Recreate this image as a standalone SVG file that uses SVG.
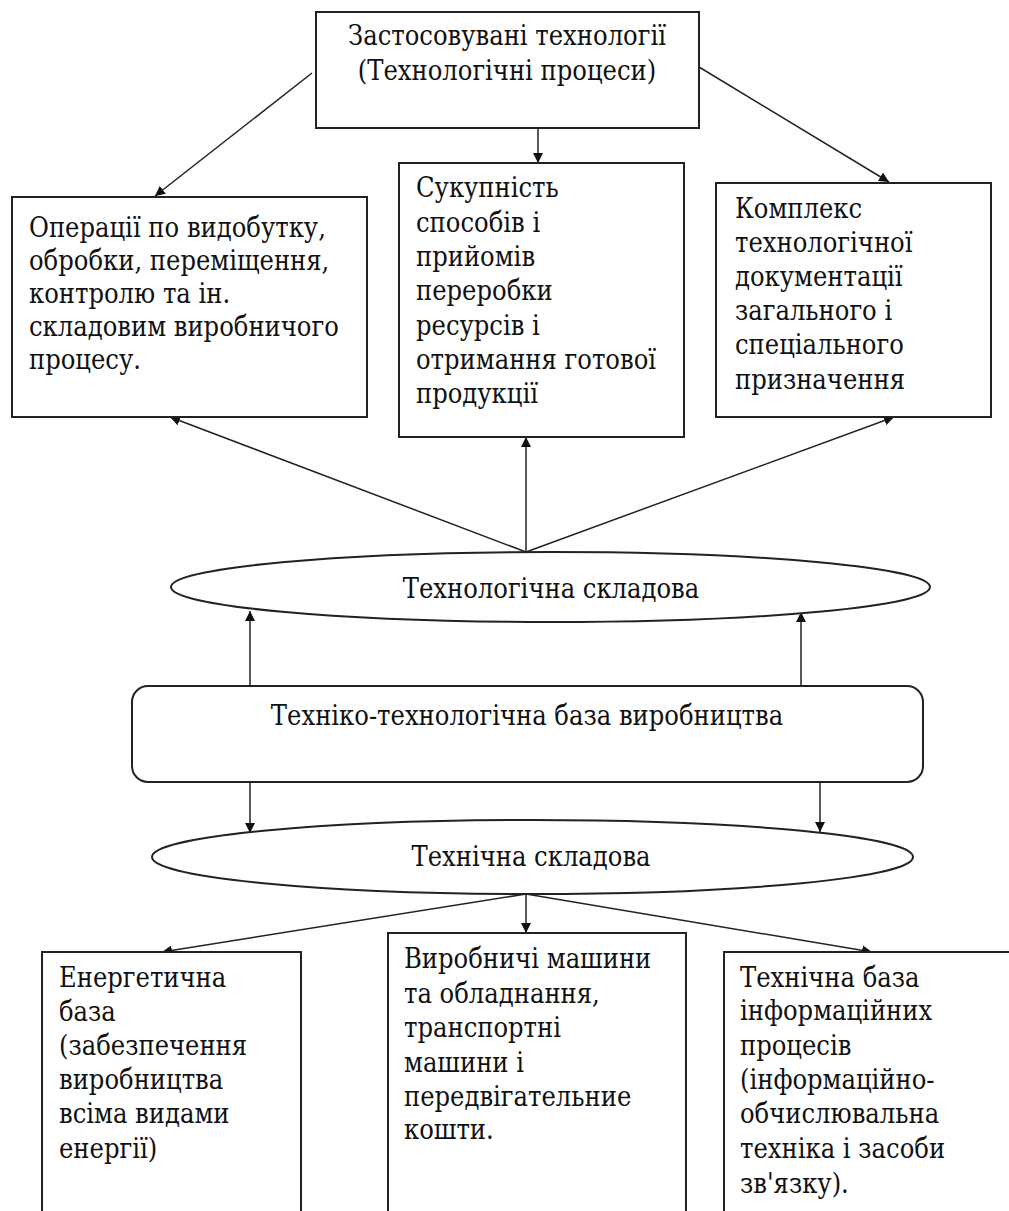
<svg xmlns="http://www.w3.org/2000/svg" width="1009" height="1211" viewBox="0 0 1009 1211">
<style>
.box{fill:#fff;stroke:#222;stroke-width:2}
.t{font-family:'DejaVu Serif Condensed','DejaVu Serif','Liberation Serif',serif;font-stretch:condensed;font-size:27px;fill:#111}
.c{text-anchor:middle}
.ln{stroke:#222;stroke-width:1.5;fill:none}
</style>
<defs>
<marker id="ah" viewBox="0 0 10 10" refX="10" refY="5" markerWidth="10" markerHeight="10" markerUnits="userSpaceOnUse" orient="auto">
<path d="M0,0 L10,5 L0,10 z" fill="#111"/>
</marker>
</defs>
<rect width="1009" height="1211" fill="#fff"/>
<g id="connectors">
<line class="ln" x1="312" y1="73" x2="155" y2="196" marker-end="url(#ah)"/>
<line class="ln" x1="538" y1="128" x2="538" y2="163" marker-end="url(#ah)"/>
<line class="ln" x1="699" y1="67" x2="889" y2="182" marker-end="url(#ah)"/>
<line class="ln" x1="526" y1="552" x2="170" y2="417" marker-end="url(#ah)"/>
<line class="ln" x1="526" y1="552" x2="526" y2="437" marker-end="url(#ah)"/>
<line class="ln" x1="526" y1="552" x2="894" y2="417" marker-end="url(#ah)"/>
<line class="ln" x1="250" y1="686" x2="250" y2="611" marker-end="url(#ah)"/>
<line class="ln" x1="801" y1="686" x2="801" y2="612" marker-end="url(#ah)"/>
<line class="ln" x1="250" y1="782" x2="250" y2="833" marker-end="url(#ah)"/>
<line class="ln" x1="820" y1="782" x2="820" y2="832" marker-end="url(#ah)"/>
<line class="ln" x1="526" y1="894" x2="162" y2="952" marker-end="url(#ah)"/>
<line class="ln" x1="526" y1="894" x2="526" y2="933" marker-end="url(#ah)"/>
<line class="ln" x1="526" y1="894" x2="872" y2="952" marker-end="url(#ah)"/>
</g>
<g id="n-top">
<rect class="box" x="316" y="12" width="383" height="116"/>
<text class="t c" x="507" y="45">Застосовувані технології</text>
<text class="t c" x="507" y="80">(Технологічні процеси)</text>
</g>
<g id="n-ops">
<rect class="box" x="12" y="197" width="355" height="220"/>
<text class="t" x="29" y="237">Операції по видобутку,</text>
<text class="t" x="29" y="270">обробки, переміщення,</text>
<text class="t" x="29" y="303">контролю та ін.</text>
<text class="t" x="29" y="336">складовим виробничого</text>
<text class="t" x="29" y="369">процесу.</text>
</g>
<g id="n-methods">
<rect class="box" x="399" y="163" width="285" height="274"/>
<text class="t" x="416" y="197">Сукупність</text>
<text class="t" x="416" y="232">способів і</text>
<text class="t" x="416" y="266">прийомів</text>
<text class="t" x="416" y="300">переробки</text>
<text class="t" x="416" y="335">ресурсів і</text>
<text class="t" x="416" y="369">отримання готової</text>
<text class="t" x="416" y="403">продукції</text>
</g>
<g id="n-docs">
<rect class="box" x="716" y="183" width="275" height="234"/>
<text class="t" x="735" y="218">Комплекс</text>
<text class="t" x="735" y="252">технологічної</text>
<text class="t" x="735" y="286">документації</text>
<text class="t" x="735" y="320">загального і</text>
<text class="t" x="735" y="354">спеціального</text>
<text class="t" x="735" y="389">призначення</text>
</g>
<g id="n-techcomp">
<ellipse class="box" cx="550.5" cy="587" rx="379.5" ry="35"/>
<text class="t c" x="551" y="598">Технологічна складова</text>
</g>
<g id="n-base">
<rect class="box" x="132" y="686" width="791" height="96" rx="16" ry="16"/>
<text class="t c" x="527" y="725">Техніко-технологічна база виробництва</text>
</g>
<g id="n-techn">
<ellipse class="box" cx="532.5" cy="857" rx="380.5" ry="37"/>
<text class="t c" x="531" y="866">Технічна складова</text>
</g>
<g id="n-energy">
<rect class="box" x="42" y="952" width="259" height="280"/>
<text class="t" x="59" y="987">Енергетична</text>
<text class="t" x="59" y="1021">база</text>
<text class="t" x="59" y="1055">(забезпечення</text>
<text class="t" x="59" y="1089">виробництва</text>
<text class="t" x="59" y="1123">всіма видами</text>
<text class="t" x="59" y="1158">енергії)</text>
</g>
<g id="n-machines">
<rect class="box" x="388" y="933" width="298" height="300"/>
<text class="t" x="404" y="968">Виробничі машини</text>
<text class="t" x="404" y="1003">та обладнання,</text>
<text class="t" x="404" y="1037">транспортні</text>
<text class="t" x="404" y="1072">машини і</text>
<text class="t" x="404" y="1106">передвігательние</text>
<text class="t" x="404" y="1139">кошти.</text>
</g>
<g id="n-info">
<rect class="box" x="724" y="952" width="300" height="280"/>
<text class="t" x="740" y="987">Технічна база</text>
<text class="t" x="740" y="1020">інформаційних</text>
<text class="t" x="740" y="1055">процесів</text>
<text class="t" x="740" y="1089">(інформаційно-</text>
<text class="t" x="740" y="1123">обчислювальна</text>
<text class="t" x="740" y="1158">техніка і засоби</text>
<text class="t" x="740" y="1193">зв'язку).</text>
</g>
</svg>
